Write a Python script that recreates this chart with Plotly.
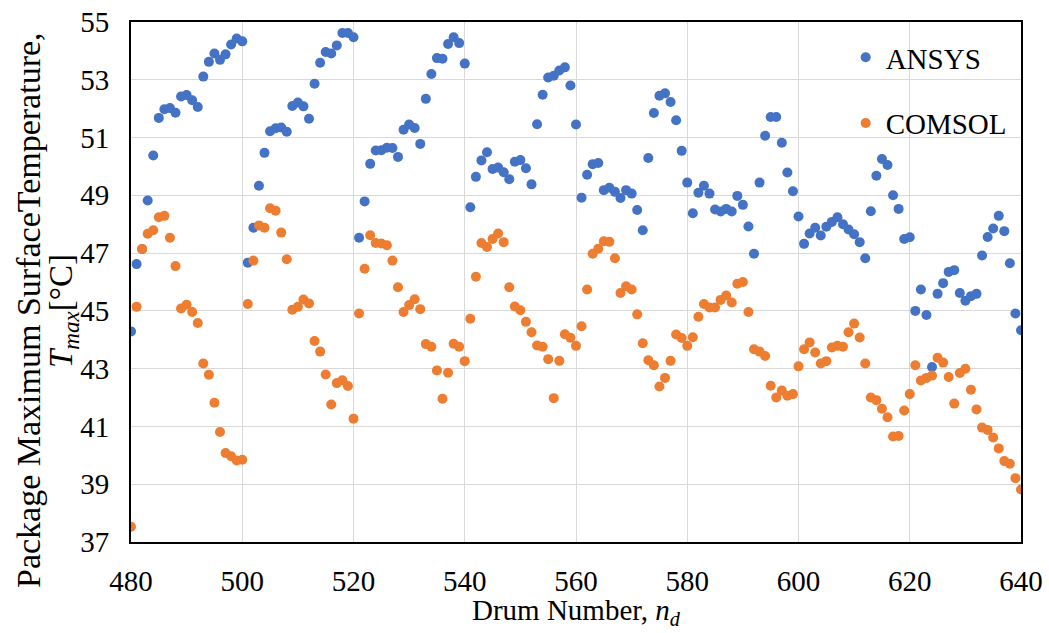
import plotly.graph_objects as go

drum_start = 480
drum_end = 640
drums = list(range(drum_start, drum_end + 1))

ansys = [
    44.29, 46.62, 47.14, 48.82, 50.38, 51.68, 51.98, 52.02, 51.86, 52.42,
    52.47, 52.29, 52.06, 53.11, 53.62, 53.91, 53.69, 53.88, 54.22, 54.43,
    54.33, 46.67, 47.88, 49.33, 50.47, 51.22, 51.32, 51.35, 51.20, 52.09,
    52.21, 52.08, 51.65, 52.86, 53.59, 53.96, 53.91, 54.19, 54.62, 54.62,
    54.47, 47.53, 48.79, 50.09, 50.55, 50.56, 50.65, 50.64, 50.33, 51.27,
    51.45, 51.33, 50.78, 52.34, 53.20, 53.75, 53.73, 54.24, 54.47, 54.27,
    53.56, 48.59, 49.64, 50.21, 50.49, 49.91, 49.96, 49.80, 49.56, 50.16,
    50.22, 49.94, 49.38, 51.46, 52.48, 53.08, 53.14, 53.32, 53.43, 52.80,
    51.45, 48.92, 49.71, 50.08, 50.12, 49.18, 49.26, 49.12, 48.91, 49.18,
    49.06, 48.49, 47.79, 50.29, 51.85, 52.45, 52.53, 52.23, 51.60, 50.54,
    49.44, 48.38, 49.09, 49.33, 49.06, 48.51, 48.44, 48.53, 48.44, 48.98,
    48.67, 47.92, 46.98, 49.44, 51.06, 51.71, 51.71, 50.82, 49.79, 49.14,
    48.27, 47.32, 47.68, 47.88, 47.61, 47.91, 48.08, 48.24, 48.00, 47.82,
    47.65, 47.38, 46.82, 48.45, 49.68, 50.26, 50.05, 49.00, 48.53, 47.49,
    47.55, 45.00, 45.74, 44.86, 43.06, 45.59, 45.96, 46.35, 46.41, 45.62,
    45.35, 45.51, 45.59, 46.92, 47.56, 47.85, 48.29, 47.76, 46.65, 44.91,
    44.33,
]

comsol = [
    37.53, 45.14, 47.14, 47.67, 47.79, 48.24, 48.29, 47.53, 46.55, 45.08,
    45.21, 44.96, 44.58, 43.18, 42.79, 41.82, 40.81, 40.08, 39.97, 39.82,
    39.85, 45.24, 46.74, 47.96, 47.88, 48.55, 48.47, 47.71, 46.79, 45.04,
    45.14, 45.39, 45.26, 43.96, 43.59, 42.80, 41.76, 42.50, 42.60, 42.40,
    41.27, 44.91, 46.46, 47.62, 47.35, 47.33, 47.27, 46.74, 45.82, 44.96,
    45.20, 45.40, 45.06, 43.85, 43.76, 42.94, 41.96, 42.86, 43.86, 43.76,
    43.26, 44.73, 46.18, 47.35, 47.21, 47.49, 47.68, 47.38, 45.82, 45.15,
    45.02, 44.62, 44.26, 43.80, 43.76, 43.33, 41.98, 43.27, 44.19, 44.07,
    43.79, 44.47, 45.74, 46.98, 47.15, 47.41, 47.39, 46.82, 45.62, 45.85,
    45.74, 44.88, 43.88, 43.29, 43.12, 42.38, 42.68, 43.27, 44.18, 44.06,
    43.79, 44.09, 44.80, 45.24, 45.12, 45.12, 45.38, 45.53, 45.29, 45.94,
    46.00, 44.96, 43.67, 43.59, 43.44, 42.41, 42.00, 42.24, 42.06, 42.12,
    43.08, 43.67, 43.91, 43.56, 43.18, 43.26, 43.73, 43.79, 43.76, 44.26,
    44.56, 44.08, 43.18, 42.00, 41.91, 41.61, 41.32, 40.65, 40.67, 41.55,
    42.12, 43.12, 42.59, 42.68, 42.76, 43.38, 43.21, 42.71, 41.79, 42.85,
    43.00, 42.27, 41.59, 40.96, 40.88, 40.62, 40.24, 39.80, 39.71, 39.21,
    38.82,
]

x_ticks = [480, 500, 520, 540, 560, 580, 600, 620, 640]
y_ticks = [37, 39, 41, 43, 45, 47, 49, 51, 53, 55]

x_title = "Drum Number, <i>n<sub>d</sub></i>"
y_title_line1 = "Package Maximum SurfaceTemperature,"
y_title_line2 = "<i>T<sub>max</sub></i>[°C]"

FONT = "Liberation Serif, Times New Roman, serif"
BLUE = "#4472C4"
ORANGE = "#ED7D31"

W, H = 1049, 633
ML, MR, MT, MB = 131, 28, 22, 91
PW, PH = W - ML - MR, H - MT - MB

fig = go.Figure()
fig.add_trace(go.Scatter(
    x=drums, y=ansys, mode="markers", name="ANSYS", legendgroup="a",
    marker=dict(color=BLUE, size=10),
))
fig.add_trace(go.Scatter(
    x=drums, y=comsol, mode="markers", name="COMSOL", legendgroup="b",
    marker=dict(color=ORANGE, size=10),
))

fig.update_layout(
    width=W, height=H,
    margin=dict(l=ML, r=MR, t=MT, b=MB),
    paper_bgcolor="white", plot_bgcolor="white",
    font=dict(family=FONT, size=29, color="black"),
    showlegend=True,
    legend=dict(
        x=0.803, y=0.981, xanchor="left", yanchor="top",
        bgcolor="rgba(0,0,0,0)", borderwidth=0,
        font=dict(family=FONT, size=29, color="black"),
        tracegroupgap=25,
    ),
    annotations=[
        dict(text=x_title, xref="paper", yref="paper", x=0.5, y=(H - MB - 612) / PH,
             xanchor="center", yanchor="middle", showarrow=False,
             font=dict(family=FONT, size=29, color="black")),
        dict(text=y_title_line1, xref="paper", yref="paper", x=(28 - ML) / PW,
             y=(H - MB - 310) / PH, xanchor="center", yanchor="middle",
             textangle=-90, showarrow=False,
             font=dict(family=FONT, size=34, color="black")),
        dict(text=y_title_line2, xref="paper", yref="paper", x=(63 - ML) / PW,
             y=(H - MB - 311) / PH, xanchor="center", yanchor="middle",
             textangle=-90, showarrow=False,
             font=dict(family=FONT, size=33, color="black")),
    ],
)
fig.update_xaxes(
    range=[480, 640], tickvals=x_ticks, ticktext=[str(v) for v in x_ticks],
    showgrid=True, gridcolor="#D9D9D9", gridwidth=1,
    showline=True, linecolor="black", linewidth=2, mirror=True,
    ticks="", zeroline=False, ticklabelstandoff=12, automargin=False,
    tickfont=dict(family=FONT, size=29),
)
fig.update_yaxes(
    range=[37, 55], tickvals=y_ticks, ticktext=[str(v) for v in y_ticks],
    showgrid=True, gridcolor="#D9D9D9", gridwidth=1,
    showline=True, linecolor="black", linewidth=2, mirror=True,
    ticks="", zeroline=False, ticklabelstandoff=14, automargin=False,
    tickfont=dict(family=FONT, size=29),
)

fig.write_html("out.html", config={"displayModeBar": False},
               post_script="document.body.style.margin='0';")
